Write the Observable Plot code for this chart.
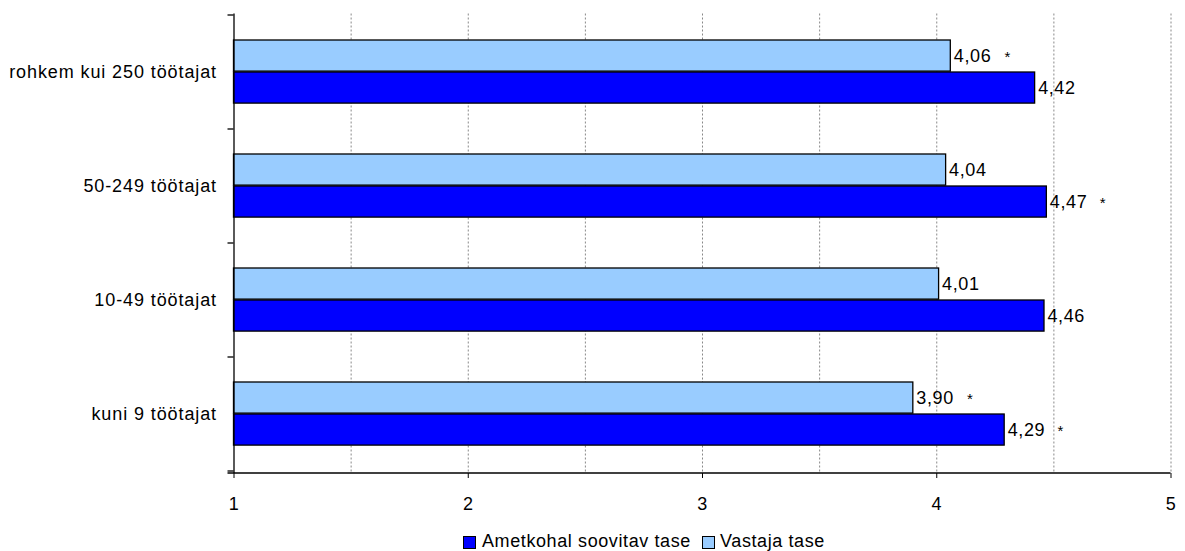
<!DOCTYPE html>
<html><head><meta charset="utf-8">
<script src="https://cdn.jsdelivr.net/npm/d3@7"></script>
<script src="https://cdn.jsdelivr.net/npm/@observablehq/plot@0.6"></script>
<style>
body{margin:0;background:#fff;overflow:hidden;font-family:"Liberation Sans",Arial,sans-serif;}
#legend{position:relative;height:21px;font-size:18px;letter-spacing:0.6px;color:#000;}
#legend .sw{position:absolute;top:6px;width:11px;height:11px;border:1px solid #000;}
#legend .lt{position:absolute;top:1px;white-space:nowrap;line-height:20px;}
</style></head><body>
<div id="chart"></div>
<div id="legend"></div>
<script>
const categories = ["rohkem kui 250 töötajat", "50-249 töötajat", "10-49 töötajat", "kuni 9 töötajat"];
const seriesNames = ["Ametkohal soovitav tase", "Vastaja tase"];
const soovitav = [4.42, 4.47, 4.46, 4.29];
const vastaja = [4.06, 4.04, 4.01, 3.90];
const soovitavSig = [false, true, false, true];
const vastajaSig = [true, false, false, true];
const xTicks = [1, 2, 3, 4, 5];
const gridValues = [1.5, 2, 2.5, 3, 3.5, 4, 4.5, 5];
const baseline = 1;
const colors = ["#0000FF", "#99CCFF"];

const rowsDark = categories.map((c, i) => ({cat: c, value: soovitav[i], sig: soovitavSig[i]}));
const rowsLight = categories.map((c, i) => ({cat: c, value: vastaja[i], sig: vastajaSig[i]}));
const fmt = v => v.toFixed(2).replace(".", ",");

function boundaryTicks(index, scales, values, dims) {
  const y = scales.y;
  const bw = y.bandwidth ? y.bandwidth() : (dims.height - dims.marginTop - dims.marginBottom) / categories.length;
  const x0 = dims.marginLeft;
  const g = d3.create("svg:g");
  const bounds = categories.map(c => y(c)).concat([y(categories[categories.length - 1]) + bw]);
  g.selectAll("line.t").data(bounds).join("line")
    .attr("x1", x0 - 6).attr("x2", x0).attr("y1", d => d).attr("y2", d => d)
    .attr("stroke", "#000").attr("stroke-width", 1.3);
  const yb = dims.height - dims.marginBottom;
  g.append("line").attr("x1", x0 - 6).attr("x2", dims.width - dims.marginRight)
    .attr("y1", yb).attr("y2", yb).attr("stroke", "#000").attr("stroke-width", 1.3);
  return g.node();
}

const chart = Plot.plot({
  width: 1185,
  height: 530,
  marginLeft: 233.5,
  marginRight: 14.5,
  marginTop: 13.5,
  marginBottom: 57,
  style: {fontSize: "18px", fontFamily: "'Liberation Sans', Arial, sans-serif", letterSpacing: "0.6px", color: "#000", background: "#fff"},
  x: {domain: [1, 5], ticks: xTicks, tickFormat: d => String(d), tickSize: 5, tickPadding: 19, label: null},
  y: {domain: categories, padding: 0, tickSize: 0, tickPadding: 17, label: null},
  marks: [
    Plot.ruleX(gridValues, {stroke: "#888", strokeDasharray: "2,2", strokeWidth: 1}),
    Plot.barX(rowsLight, {y: "cat", x1: () => baseline, x2: "value", fill: colors[1], stroke: "#000", strokeWidth: 1.3, insetTop: 25, insetBottom: 57.9}),
    Plot.barX(rowsDark, {y: "cat", x1: () => baseline, x2: "value", fill: colors[0], stroke: "#000", strokeWidth: 1.3, insetTop: 57, insetBottom: 25.9}),
    Plot.text(rowsLight, {y: "cat", x: "value", text: d => fmt(d.value), textAnchor: "start", dx: 3, dy: -16.5, fontSize: 18, fill: "#000"}),
    Plot.text(rowsDark, {y: "cat", x: "value", text: d => fmt(d.value), textAnchor: "start", dx: 3, dy: 16, fontSize: 18, fill: "#000"}),
    Plot.text(rowsLight.filter(d => d.sig), {y: "cat", x: "value", text: () => "*", textAnchor: "middle", dx: 57, dy: -15.5, fontSize: 15, fill: "#000"}),
    Plot.text(rowsDark.filter(d => d.sig), {y: "cat", x: "value", text: () => "*", textAnchor: "middle", dx: 56, dy: 17, fontSize: 15, fill: "#000"}),
    Plot.ruleX([baseline], {stroke: "#000", strokeWidth: 1.3}),
    boundaryTicks
  ]
});
chart.querySelectorAll("g[aria-label='y-axis tick label'] text, g[aria-label='y-axis'] text").forEach(t => t.style.letterSpacing = "0.9px");
document.getElementById("chart").appendChild(chart);

const legend = document.getElementById("legend");
const legendPos = [[463, 482], [702, 720]];
seriesNames.forEach((name, i) => {
  const sw = document.createElement("div");
  sw.className = "sw";
  sw.style.left = legendPos[i][0] + "px";
  sw.style.background = colors[i];
  legend.appendChild(sw);
  const t = document.createElement("span");
  t.className = "lt";
  t.style.left = legendPos[i][1] + "px";
  t.textContent = name;
  legend.appendChild(t);
});
</script>
</body></html>
